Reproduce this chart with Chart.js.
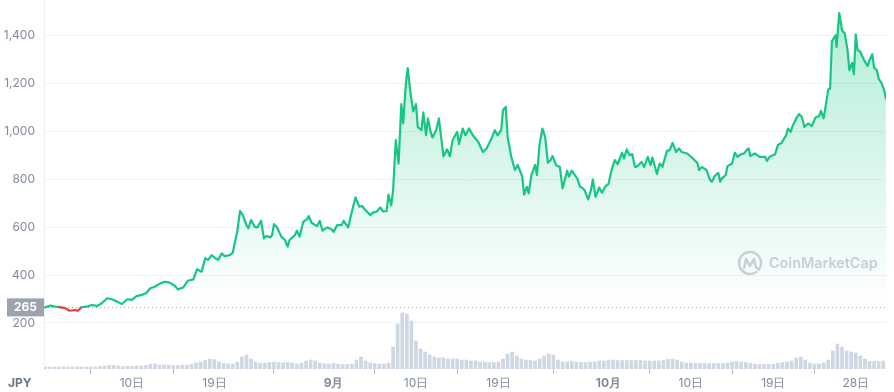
<!DOCTYPE html>
<html><head><meta charset="utf-8">
<script src="https://cdn.jsdelivr.net/npm/chart.js@4"></script>
<style>html,body{margin:0;padding:0;background:#fff}#wrap{width:894px;height:392px;position:relative}</style>
</head><body><div id="wrap"><canvas id="c" width="894" height="392"></canvas></div>
<script>
// ---- data (x = days since 1 Aug) ----
const tickDays = [9, 18, 31, 40, 49, 61, 70, 79, 88];
const tickLabels = ['10日', '19日', '9月', '10日', '19日', '10月', '10日', '19日', '28日'];
const monthTickDays = [31, 61];
const yTicks = [200, 400, 600, 800, 1000, 1200, 1400];
const baselinePrice = 265;
const currencyLabel = 'JPY';
const watermark = 'CoinMarketCap';

const priceDays = [
-0.5,0.1,0.6,1.1,1.7,2.2,2.8,3.1,3.5,4.1,4.6,5.2,5.7,6.3,6.8,7.4,7.9,8.5,9.0,9.5,10.1,10.6,11.0,11.5,12.1,12.6,13.1,13.7,14.0,14.6,15.1,15.7,16.1,16.6,17.0,17.3,17.7,18.1,18.4,
18.8,19.1,19.7,20.0,20.5,20.8,21.1,21.5,21.7,22.0,22.4,22.7,23.1,23.4,23.7,24.1,24.3,24.5,24.8,25.3,25.7,26.0,26.2,26.8,27.0,27.3,27.7,28.1,28.3,28.6,29.2,29.5,29.8,30.3,30.8,31.0,31.4,31.9,32.1,32.6,33.0,33.4,33.8,34.1,34.4,35.0,35.3,35.7,36.1,36.4,36.8,37.0,37.3,37.5,
37.8,38.1,38.4,38.6,38.9,39.1,39.4,39.7,40.0,40.2,40.6,40.8,41.1,41.3,41.6,41.8,42.2,42.5,42.7,43.0,43.4,43.7,44.0,44.5,44.7,45.1,45.4,45.8,46.2,46.8,47.3,47.7,48.3,48.6,48.9,49.3,49.5,49.8,50.0,50.4,50.8,51.1,51.6,51.8,52.1,52.3,52.6,53.0,53.2,53.5,53.8,54.1,54.4,
54.7,54.9,55.3,55.7,56.0,56.5,56.7,57.0,57.6,57.9,58.1,58.4,58.8,59.1,59.3,59.6,60.0,60.3,60.7,61.0,61.4,61.7,62.0,62.5,62.7,63.0,63.3,63.6,63.9,64.2,64.6,64.9,65.3,65.6,65.8,66.3,66.6,66.9,67.4,67.7,68.0,68.4,68.7,69.0,69.6,70.1,70.7,70.9,71.2,71.7,
72.1,72.3,72.6,73.0,73.2,73.4,73.8,74.0,74.5,74.8,75.1,75.5,75.8,76.1,76.3,76.5,77.0,77.5,78.1,78.3,78.6,79.2,79.5,79.9,80.4,80.6,80.9,81.1,81.5,81.8,82.1,82.4,82.8,83.2,83.6,84.0,84.2,84.5,85.0,85.2,85.4,85.8,85.9,86.0,86.2,86.5,86.8,87.1,87.3,87.6,87.8,88.0,88.2,88.5,88.9,89.3,89.5,89.8,90.0,90.3,90.5,90.8,91.1,91.3
];
const prices = [
265,273,268,266,262,251,254,251,266,268,275,271,282,303,299,289,279,299,296,312,317,326,345,351,365,372,368,354,340,348,376,382,424,414,470,463,483,470,463,
490,479,483,493,585,667,650,608,595,629,601,599,626,553,563,557,567,612,601,560,546,518,546,567,585,560,622,632,646,618,604,626,585,599,590,580,608,608,626,599,664,724,685,688,674,650,660,664,682,665,667,735,690,754,
963,865,1113,1032,1199,1263,1158,1082,1113,1018,1004,1078,983,1053,997,974,1004,1053,990,895,924,895,963,997,946,1011,983,1011,983,955,913,928,974,1004,983,1004,1088,1101,976,893,838,859,810,735,768,740,817,859,817,949,1011,975,868,
879,896,858,851,761,835,810,835,803,768,765,754,715,754,799,726,765,743,771,779,845,879,862,910,886,924,900,904,851,854,872,851,893,858,890,821,865,851,918,921,951,913,928,913,907,890,868,838,851,838,
796,789,813,826,789,803,817,854,865,910,893,904,907,921,928,896,907,893,893,876,893,904,942,951,983,1011,997,1021,1053,1071,1060,1018,1032,1021,1057,1063,1085,1053,1174,1178,1376,1400,1351,1396,1492,1421,1407,1338,1254,1285,1238,1404,1338,1331,1296,1271,1296,1321,1265,1254,1219,1201,1171,1136
];

// volume: one bar every 12h starting at day -0.5
const volumeStartDay = -0.5;
const volumeStepDays = 0.5;
const volumes = [
20,20,20,20,20,20,20,20,20,20,
20,20,25,30,35,35,30,25,25,25,
30,30,35,45,50,40,40,40,35,35,
40,40,45,60,70,85,100,95,70,55,
50,50,70,120,140,100,70,60,60,65,
70,65,60,65,60,50,60,80,90,80,
60,50,50,55,50,45,45,50,90,120,
80,60,55,50,50,60,220,450,560,550,
480,280,200,170,140,120,110,110,100,100,
100,90,90,80,80,70,70,65,65,70,
100,150,170,130,100,90,85,80,100,130,
150,140,90,70,70,75,70,65,65,70,
70,80,80,85,90,85,85,85,85,85,
85,80,80,80,80,85,95,100,90,70,
60,60,55,55,55,55,55,55,55,60,
70,75,70,65,55,50,45,45,45,45,
55,65,70,80,110,120,90,60,50,50,
60,90,180,250,220,180,170,160,130,100,
75,75,75,80
];

const GREEN = '#16c784', RED = '#ea3943';

const overlay = {
  id: 'overlay',
  beforeDatasetsDraw(chart) {
    const {ctx, chartArea: a, scales: {y}} = chart;
    ctx.save();
    const col = '#cdd1dc';
    const cx = 750, cy = 263, r = 11;
    ctx.strokeStyle = col; ctx.lineWidth = 2.4; ctx.lineCap = 'round'; ctx.lineJoin = 'round';
    ctx.beginPath(); ctx.arc(cx, cy, r, 0.3 * Math.PI, 2.15 * Math.PI); ctx.stroke();
    ctx.beginPath();
    ctx.moveTo(cx - 6, cy + 5); ctx.lineTo(cx - 4, cy - 4); ctx.lineTo(cx, cy + 3);
    ctx.lineTo(cx + 4, cy - 4); ctx.lineTo(cx + 6, cy + 4); ctx.lineTo(cx + 9, cy + 7);
    ctx.stroke();
    ctx.fillStyle = col;
    ctx.font = '600 16px Inter';
    const w = ctx.measureText(watermark).width;
    const fs = 16 * 109 / w;
    ctx.font = '600 ' + fs.toFixed(1) + 'px Inter';
    ctx.textBaseline = 'middle'; ctx.textAlign = 'left';
    ctx.fillText(watermark, 769, cy + 1);
    const by = Math.round(y.getPixelForValue(baselinePrice)) + 0.5;
    ctx.strokeStyle = '#9aa1ae'; ctx.lineWidth = 1; ctx.setLineDash([1, 3]); ctx.lineCap = 'butt';
    ctx.beginPath(); ctx.moveTo(a.left, by); ctx.lineTo(a.right, by); ctx.stroke();
    ctx.restore();
  },
  afterDraw(chart) {
    const {ctx, chartArea: a, scales: {y}} = chart;
    ctx.save();
    const by = y.getPixelForValue(baselinePrice);
    ctx.fillStyle = '#9ca2ae';
    ctx.fillRect(7, by - 9, a.left - 7, 18);
    ctx.fillStyle = '#ffffff';
    ctx.font = 'bold 12px Inter';
    ctx.textAlign = 'center'; ctx.textBaseline = 'middle';
    ctx.fillText(String(baselinePrice), 7 + (a.left - 7) / 2, by + 0.5);
    ctx.fillStyle = '#6b7488';
    ctx.textAlign = 'left';
    ctx.fillText(currencyLabel, 8, 383);
    ctx.restore();
  }
};

new Chart(document.getElementById('c'), {
  type: 'line',
  data: {
    datasets: [
      {
        type: 'line',
        data: priceDays.map((d, i) => ({x: d, y: prices[i]})),
        yAxisID: 'y',
        borderColor: GREEN,
        borderWidth: 2.2,
        borderJoinStyle: 'round',
        borderCapStyle: 'round',
        pointRadius: 0,
        tension: 0,
        order: 1,
        fill: {target: {value: baselinePrice}},
        backgroundColor: (c) => {
          const chart = c.chart, a = chart.chartArea;
          if (!a) return 'rgba(22,199,132,0.15)';
          const bottom = chart.scales.y.getPixelForValue(baselinePrice);
          const g = chart.ctx.createLinearGradient(0, a.top, 0, bottom);
          g.addColorStop(0, 'rgba(22,199,132,0.34)');
          g.addColorStop(1, 'rgba(22,199,132,0.0)');
          return g;
        },
        segment: {
          borderColor: (c) => (c.p0.parsed.y < baselinePrice || c.p1.parsed.y < baselinePrice) ? RED : GREEN
        }
      },
      {
        type: 'bar',
        data: volumes.map((v, i) => ({x: volumeStartDay + i * volumeStepDays, y: v})),
        yAxisID: 'yVol',
        backgroundColor: '#cfd6e4',
        barThickness: 3,
        order: 2
      }
    ]
  },
  options: {
    responsive: false,
    animation: false,
    events: [],
    layout: {padding: {left: 0, right: 8, top: 0, bottom: 0}},
    plugins: {legend: {display: false}, tooltip: {enabled: false}},
    scales: {
      x: {
        type: 'linear', min: -0.6, max: 91.3, offset: false,
        afterBuildTicks: (s) => { s.ticks = tickDays.map(v => ({value: v})); },
        afterFit: (s) => { s.height = 23; s.paddingLeft = 0; s.paddingRight = 0; },
        ticks: {
          autoSkip: false, maxRotation: 0, padding: 2, color: '#808a9d',
          font: (c) => ({family: 'Inter', size: 12, weight: (c.tick && monthTickDays.includes(c.tick.value)) ? 'bold' : 'normal'}),
          callback: (v) => tickLabels[tickDays.indexOf(v)]
        },
        grid: {drawOnChartArea: false, drawTicks: true, tickLength: 5, color: '#b8bfcc'},
        border: {display: false}
      },
      y: {
        position: 'left', min: 8, max: 1547,
        afterBuildTicks: (s) => { s.ticks = yTicks.map(v => ({value: v})); },
        afterFit: (s) => { s.width = 44; s.paddingTop = 0; s.paddingBottom = 0; },
        ticks: {color: '#808a9d', font: {family: 'Inter', size: 12}, padding: 9,
          callback: (v) => v.toLocaleString('en-US')},
        grid: {color: '#eff2f5', drawTicks: false},
        border: {display: true, color: '#eff2f5'}
      },
      yVol: {display: false, min: 0, max: 3690,
        afterFit: (s) => { s.paddingTop = 0; s.paddingBottom = 0; }}
    }
  },
  plugins: [overlay]
});
</script>
</body></html>
